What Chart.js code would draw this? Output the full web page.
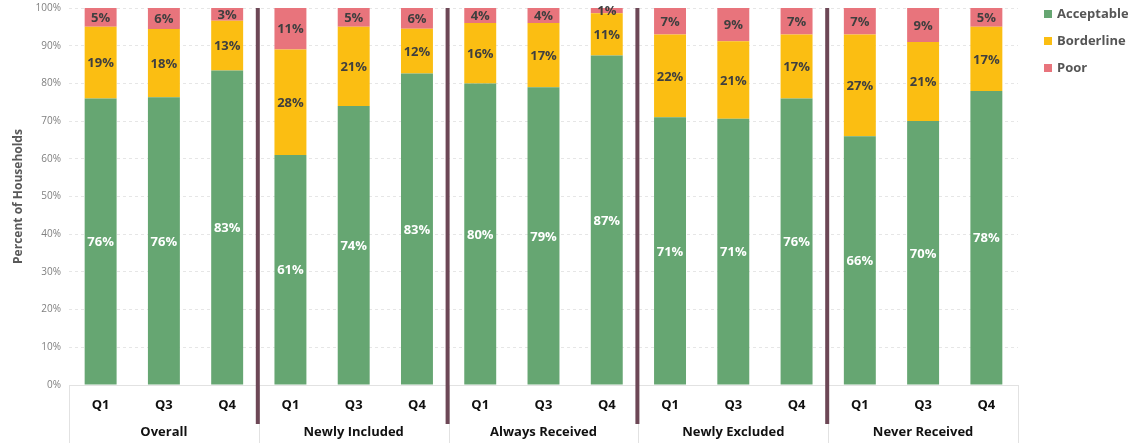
<!DOCTYPE html>
<html>
<head>
<meta charset="utf-8">
<script src="https://cdn.jsdelivr.net/npm/chart.js@4.4.1/dist/chart.umd.min.js"></script>
<style>
  html, body { margin: 0; padding: 0; background: #ffffff; }
  #wrap { width: 1128px; height: 445px; }
</style>
</head>
<body>
<div id="wrap"><canvas id="c" width="1128" height="445"></canvas></div>
<script>
// Household consumption groups and survey rounds
const groups = ['Overall', 'Newly Included', 'Always Received', 'Newly Excluded', 'Never Received'];
const rounds = ['Q1', 'Q3', 'Q4'];

// Share of households (%) per group and round, in the order of groups x rounds
const acceptable = [76, 76.3, 83.4,   61, 74, 82.6,   80, 79, 87.4,   71, 70.6, 76,   66, 70, 78];
const borderline = [19, 18.1, 13.2,   28, 21, 11.9,   16, 17, 11.2,   22, 20.6, 17,   27, 21, 17];
const poor       = [ 5,  5.6,  3.4,   11,  5,  5.5,    4,  4,  1.4,    7,  8.8,  7,    7,  9,  5];

const yTicks = [0, 10, 20, 30, 40, 50, 60, 70, 80, 90, 100];

// One category per group/round pair; the group name sits on a second line under the middle round
const labels = [];
groups.forEach(g => rounds.forEach((r, i) => labels.push(i === 1 ? [r, g] : [r, ''])));

const COLORS = { acceptable: '#66a672', borderline: '#fbbe12', poor: '#e8747c' };

Chart.defaults.font.family = "'Open Sans', sans-serif";

// Percentage written in the middle of every stacked segment
const segmentLabels = {
  id: 'segmentLabels',
  afterDatasetsDraw(chart) {
    const ctx = chart.ctx;
    ctx.save();
    ctx.font = 'bold 13px "Open Sans", sans-serif';
    ctx.textAlign = 'center';
    ctx.textBaseline = 'middle';
    chart.data.datasets.forEach((ds, di) => {
      const meta = chart.getDatasetMeta(di);
      meta.data.forEach((bar, i) => {
        const v = ds.data[i];
        const p = bar.getProps(['x', 'y', 'base'], true);
        ctx.fillStyle = di === 0 ? '#ffffff' : '#3f3f3f';
        ctx.fillText(Math.round(v) + '%', p.x, (p.y + p.base) / 2 + 1);
      });
    });
    ctx.restore();
  }
};

// Table lines under the axis, group dividers and the legend on the right
const frame = {
  id: 'frame',
  afterDraw(chart) {
    const ctx = chart.ctx;
    const x = chart.scales.x;
    const area = chart.chartArea;
    const n = rounds.length;
    const boundary = k => (x.getPixelForValue(k * n - 1) + x.getPixelForValue(k * n)) / 2;
    const edges = [area.left];
    for (let k = 1; k < groups.length; k++) edges.push(boundary(k));
    edges.push(area.right);

    ctx.save();
    // axis baseline and light table grid below the plot
    ctx.strokeStyle = '#e2e2e2';
    ctx.lineWidth = 1;
    ctx.beginPath();
    ctx.moveTo(area.left, Math.round(area.bottom) + 0.5);
    ctx.lineTo(area.right, Math.round(area.bottom) + 0.5);
    edges.forEach(e => {
      ctx.moveTo(Math.round(e) + 0.5, area.bottom);
      ctx.lineTo(Math.round(e) + 0.5, chart.height - 2);
    });
    ctx.stroke();

    // dark dividers between groups
    ctx.strokeStyle = '#6d4756';
    ctx.lineWidth = 4;
    ctx.beginPath();
    for (let k = 1; k < groups.length; k++) {
      const bx = boundary(k) - 1;
      ctx.moveTo(bx, area.top);
      ctx.lineTo(bx, area.bottom + 39);
    }
    ctx.stroke();

    // legend
    ctx.font = 'bold 13px "Open Sans", sans-serif';
    ctx.textAlign = 'left';
    ctx.textBaseline = 'middle';
    chart.data.datasets.forEach((ds, i) => {
      const cy = 14 + i * 27;
      ctx.fillStyle = ds.backgroundColor;
      ctx.fillRect(1044, cy - 4, 8, 8);
      ctx.fillStyle = '#555555';
      ctx.fillText(ds.label, 1057, cy);
    });
    ctx.restore();
  }
};

new Chart(document.getElementById('c'), {
  type: 'bar',
  data: {
    labels: labels,
    datasets: [
      { label: 'Acceptable', data: acceptable, backgroundColor: COLORS.acceptable },
      { label: 'Borderline', data: borderline, backgroundColor: COLORS.borderline },
      { label: 'Poor', data: poor, backgroundColor: COLORS.poor }
    ]
  },
  options: {
    responsive: false,
    animation: false,
    devicePixelRatio: 1,
    layout: { padding: { left: 0, right: 110, top: 8, bottom: 0 } },
    datasets: { bar: { barPercentage: 0.505, categoryPercentage: 1.0, borderWidth: 0 } },
    plugins: { legend: { display: false }, tooltip: { enabled: false } },
    scales: {
      x: {
        stacked: true,
        afterFit(scale) { scale.height = 60; scale.paddingLeft = 0; scale.paddingRight = 0; },
        grid: { display: false, drawTicks: false },
        border: { display: false },
        ticks: {
          autoSkip: false,
          maxRotation: 0,
          padding: 6.5,
          color: '#111111',
          font: { size: 13, weight: 'bold', lineHeight: '27px' }
        }
      },
      y: {
        stacked: true,
        min: 0,
        max: 100,
        afterBuildTicks(scale) { scale.ticks = yTicks.map(v => ({ value: v })); },
        afterFit(scale) { scale.width = 69; scale.paddingTop = 0; scale.paddingBottom = 0; },
        grid: { color: '#e6e6e6', lineWidth: 1, drawTicks: false },
        border: { display: false, dash: [3, 3] },
        ticks: {
          padding: 8,
          color: '#808080',
          font: { size: 10 },
          callback: v => v + '%'
        },
        title: {
          display: true,
          text: 'Percent of Households',
          color: '#595959',
          font: { size: 12, weight: 'bold' },
          padding: { top: 11, bottom: 0 }
        }
      }
    }
  },
  plugins: [segmentLabels, frame]
});
</script>
</body>
</html>
